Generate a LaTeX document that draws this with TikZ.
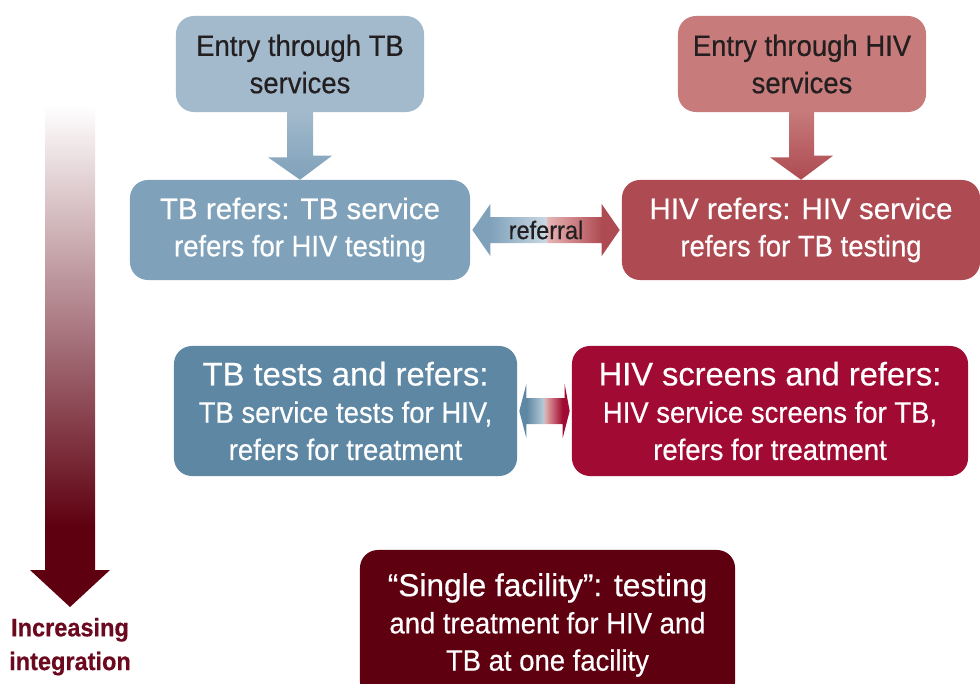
\documentclass[tikz,border=0pt]{standalone}
\usepackage{fontspec}
\setmainfont{Liberation Sans}[FakeBold=0.5]
\newfontfamily\narrowfont{Liberation Sans}[FakeStretch=0.93, FakeBold=0.5]
\usetikzlibrary{calc}

\definecolor{textdark}{HTML}{231F20}
\definecolor{tbentry}{HTML}{A3BACC}
\definecolor{hiventry}{HTML}{C77B7B}
\definecolor{tbrefers}{HTML}{7FA1BA}
\definecolor{hivrefers}{HTML}{AE4A52}
\definecolor{tbtests}{HTML}{5E87A3}
\definecolor{hivscreens}{HTML}{A00A33}
\definecolor{single}{HTML}{5E0010}
\definecolor{intred}{HTML}{6B0A1E}
\definecolor{tblight}{HTML}{C9D8E3}
\definecolor{hivlight}{HTML}{E8B4B4}
\definecolor{tbpale}{HTML}{B5C9D6}
\definecolor{hivpale}{HTML}{E2AAAA}

% first lines of the boxes are set in the wide face
\newcommand{\wideline}[2][21]{{\rmfamily\fontsize{#1}{26.5}\selectfont #2}}

\pgfdeclarehorizontalshading{referral}{100bp}{color(0bp)=(tbrefers); color(31bp)=(tbrefers); color(50bp)=(tblight); color(50.5bp)=(hivlight); color(69bp)=(hivrefers); color(100bp)=(hivrefers)}
\pgfdeclarehorizontalshading{screening}{100bp}{color(0bp)=(tbtests); color(32bp)=(tbtests); color(49bp)=(tbpale); color(51bp)=(hivpale); color(68bp)=(hivscreens); color(100bp)=(hivscreens)}
\pgfdeclareverticalshading{integration}{100bp}{color(0bp)=(single); color(25bp)=(single); color(33bp)=(single); color(75bp)=(white); color(100bp)=(white)}

\tikzset{
	integration/.is family,
	integration/.cd,
	box/.style = {
		rounded corners = 0.45cm,
		inner sep = 0pt,
		align = center,
		text = white,
		font = \narrowfont\fontsize{21}{26.5}\selectfont,
	},
	entry/.style = {
		integration/box,
		text = textdark,
		minimum width = 6.2cm,
		minimum height = 2.4cm,
	},
	level/.style = {
		integration/box,
		minimum height = 3.25cm,
	},
	block arrow/.style = {
		draw = none,
	},
	axis label/.style = {
		align = center,
		anchor = north,
		text = intred,
		font = \narrowfont\bfseries\fontsize{18}{24}\selectfont,
	},
}

\begin{document}
\begin{tikzpicture}[x = 0.025cm, y = -0.025cm]
	\useasboundingbox (0, 0) rectangle (980, 684);
	% where the patient comes in
	\node[integration/entry, fill = tbentry] (TB-entry) at (300, 64) {Entry through TB\\services};
	\node[integration/entry, fill = hiventry] (HIV-entry) at (802, 64) {Entry through HIV\\services};
	% the three levels of integration
	\node[integration/box, fill = tbrefers, minimum width = 8.5cm, minimum height = 2.5cm] (TB-refers) at (300, 230) {\wideline{TB refers: TB service}\\refers for HIV testing};
	\node[integration/box, fill = hivrefers, minimum width = 8.95cm, minimum height = 2.5cm] (HIV-refers) at (801, 230) {\wideline{HIV refers: HIV service}\\refers for TB testing};
	\node[integration/level, fill = tbtests, minimum width = 8.575cm] (TB-tests) at (345.5, 411) {\wideline[23.3]{TB tests and refers:}\\TB service tests for HIV,\\refers for treatment};
	\node[integration/level, fill = hivscreens, minimum width = 9.9cm] (HIV-screens) at (770, 411) {\wideline[23.2]{HIV screens and refers:}\\HIV service screens for TB,\\refers for treatment};
	\node[integration/box, fill = single, minimum width = 9.375cm, minimum height = 3.75cm] (single-facility) at (547.5, 625) {\wideline[22.5]{``Single facility'': testing}\\and treatment for HIV and\\TB at one facility};
	% entry arrows
	\shade[integration/block arrow, top color = tbentry, bottom color = tbrefers] (TB-entry.south) ++(-13, 0) -- ++(0, 45) -- ++(-19, 0) -- (TB-refers.north) -- ++(32, -24) -- ++(-19, 0) -- ++(0, -45) -- cycle;
	\shade[integration/block arrow, top color = hiventry, bottom color = hivrefers] (HIV-entry.south) ++(-13, 0) -- ++(0, 45) -- ++(-19, 0) -- (HIV-refers.north) -- ++(32, -24) -- ++(-19, 0) -- ++(0, -45) -- cycle;
	% referral between the services
	\shade[integration/block arrow, shading = referral] ($(TB-refers.east) + (2, 0)$) -- ++(18, -26) -- ++(0, 13) -- ($(HIV-refers.west) + (-20, -13)$) -- ++(0, -13) -- ($(HIV-refers.west) + (-2, 0)$) -- ++(-18, 26) -- ++(0, -13) -- ($(TB-refers.east) + (20, 13)$) -- ++(0, 13) -- cycle;
	\node[text = textdark, font = \narrowfont\fontsize{18}{20}\selectfont] (referral) at ($(TB-refers.east)!0.5!(HIV-refers.west)$) {referral};
	\shade[integration/block arrow, shading = screening] ($(TB-tests.east) + (2, 0)$) -- ++(7, -27) -- ++(0, 14) -- ($(HIV-screens.west) + (-7, -13)$) -- ++(0, -14) -- ($(HIV-screens.west) + (-2, 0)$) -- ++(-7, 27) -- ++(0, -14) -- ($(TB-tests.east) + (9, 13)$) -- ++(0, 14) -- cycle;
	% increasing integration
	\coordinate (integration-top) at (70, 105);
	\coordinate (integration-tip) at (70, 607);
	\shade[integration/block arrow, shading = integration] (integration-top) ++(-25, 0) -- ++(0, 465) -- ++(-15, 0) -- (integration-tip) -- ++(40, -37) -- ++(-15, 0) -- ++(0, -465) -- cycle;
	\node[integration/axis label] (integration-label) at (70, 613) {Increasing\\integration};
\end{tikzpicture}
\end{document}
